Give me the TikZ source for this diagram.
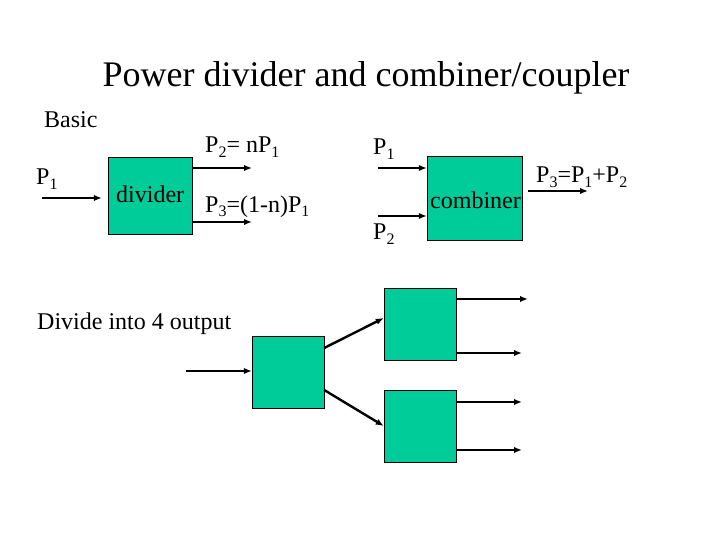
\documentclass[tikz,border=0pt]{standalone}
\usepackage{fontspec}
\setmainfont{Liberation Serif}
\usetikzlibrary{arrows.meta}
\definecolor{boxgreen}{RGB}{0,204,153}
\newcommand{\psub}[1]{\raisebox{-5pt}{\fontsize{16}{16}\selectfont #1}}
\tikzset{
x=1pt, y=-1pt,
every node/.style={font=\fontsize{24}{28}\selectfont, inner sep=0pt},
block/.style={draw=black, fill=boxgreen, rectangle},
lbl/.style={anchor=base west},
arr/.style={line width=2.4pt, -{Latex[length=8pt,width=6.5pt]}},
}

\begin{document}
\begin{tikzpicture}
\useasboundingbox (0,0) rectangle (720,540);
\node[font=\fontsize{36}{40}\selectfont] (title) at (366,87) [anchor=base] {Power divider and combiner/coupler};
\node[lbl] (basic) at (44,128) {Basic};
% divider
\node[block, minimum width=84pt, minimum height=77pt] (div) at (150,195.5) {};
\node[lbl] (divtxt) at (116,203) {divider};
\coordinate (din) at (42,198);
\coordinate (dout2) at (252,168);
\coordinate (dout3) at (252,222);
\node[lbl] (p1) at (36,185) {P\psub{1}};
\node[lbl] (p2) at (205,153) {P\psub{2}= nP\psub{1}};
\node[lbl] (p3) at (205,212) {P\psub{3}=(1-n)P\psub{1}};
\draw[arr, shorten >=6pt] (din) -- (div.west |- din);
\draw[arr] (div.east |- dout2) -- (dout2);
\draw[arr] (div.east |- dout3) -- (dout3);
% combiner
\node[block, minimum width=95pt, minimum height=84pt] (comb) at (474.5,198) {};
\node[lbl] (combtxt) at (430,208) {combiner};
\coordinate (cin1) at (378,168);
\coordinate (cin2) at (378,216);
\coordinate (cout) at (588,191);
\node[lbl] (q1) at (373,155) {P\psub{1}};
\node[lbl] (q2) at (373,240) {P\psub{2}};
\node[lbl] (q3) at (536,183) {P\psub{3}=P\psub{1}+P\psub{2}};
\draw[arr] (cin1) -- (comb.west |- cin1);
\draw[arr] (cin2) -- (comb.west |- cin2);
\draw[arr] ([xshift=6pt]comb.east |- cout) -- (cout);
% divide into 4
\node[lbl] (four) at (37,329) {Divide into 4 output};
\node[block, minimum size=72pt] (first) at (288,372.5) {};
\node[block, minimum size=72pt] (upper) at (420,324) {};
\node[block, minimum size=72pt] (lower) at (420,426) {};
\coordinate (fin) at (186,371);
\draw[arr] (fin) -- (first.west |- fin);
\draw[arr] ([yshift=24.5pt]first.east) -- ([yshift=6pt]upper.west);
\draw[arr] ([yshift=-17.5pt]first.east) -- (lower.west);
\foreach \b/\ya/\xa/\yb in {upper/299/528/353, lower/402/522/450} {
  \coordinate (\b a) at (\xa,\ya);
  \coordinate (\b b) at (522,\yb);
  \draw[arr] (\b.east |- \b a) -- (\b a);
  \draw[arr] (\b.east |- \b b) -- (\b b);
}
\end{tikzpicture}
\end{document}
